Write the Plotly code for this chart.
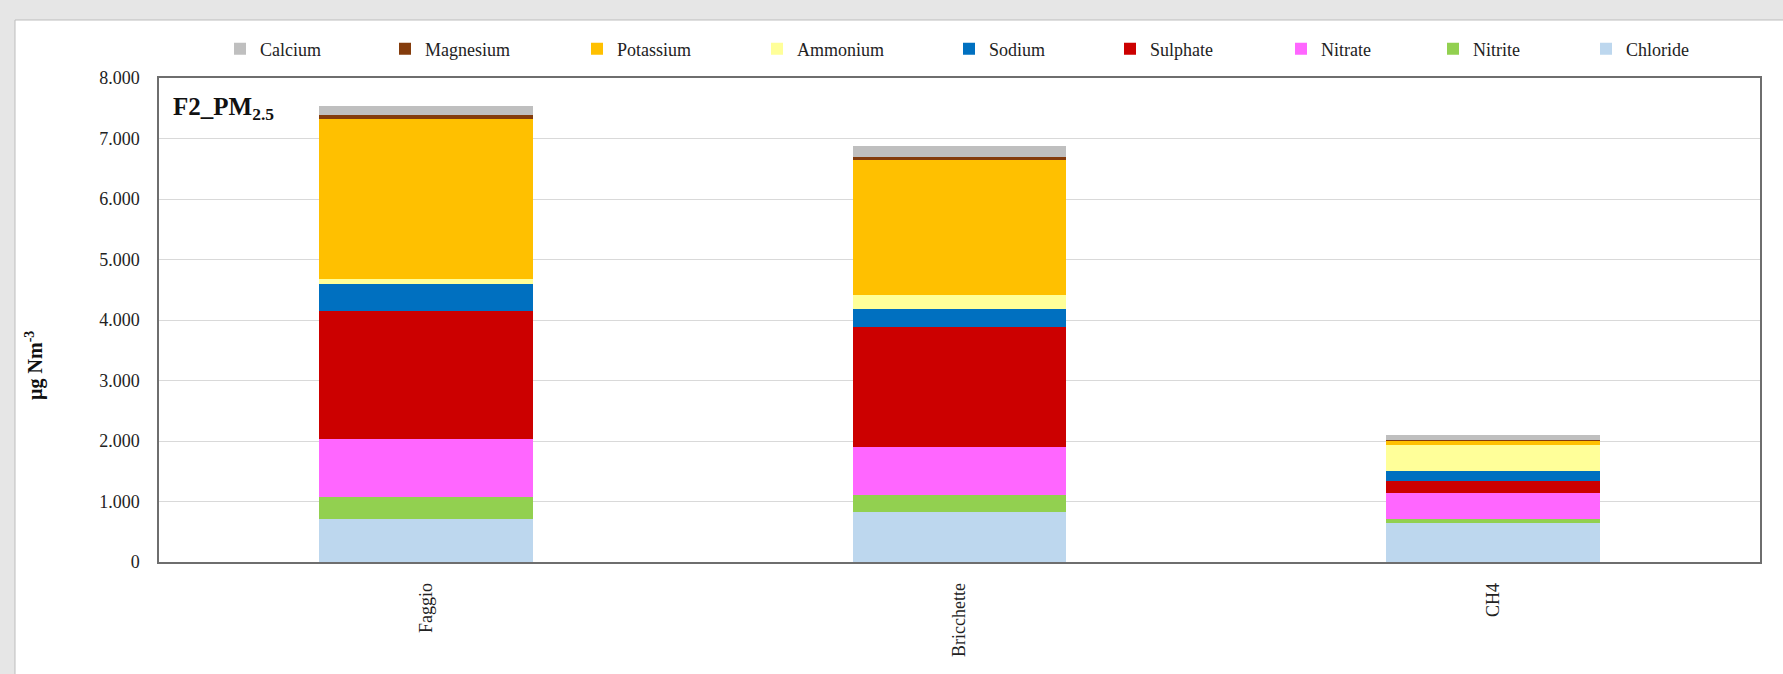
import plotly.graph_objects as go

categories = ["Faggio", "Bricchette", "CH4"]

# stacked from bottom to top
series_names = ["Chloride", "Nitrite", "Nitrate", "Sulphate", "Sodium",
                "Ammonium", "Potassium", "Magnesium", "Calcium"]
chloride = [0.706, 0.832, 0.650]
nitrite = [0.363, 0.270, 0.061]
nitrate = [0.959, 0.794, 0.424]
sulphate = [2.126, 1.994, 0.209]
sodium = [0.441, 0.287, 0.165]
ammonium = [0.078, 0.236, 0.425]
potassium = [2.644, 2.232, 0.073]
magnesium = [0.071, 0.044, 0.010]
calcium = [0.149, 0.192, 0.082]
series_values = [chloride, nitrite, nitrate, sulphate, sodium,
                 ammonium, potassium, magnesium, calcium]

colors = {
    "Calcium": "#BFBFBF", "Magnesium": "#843C0C", "Potassium": "#FFC000",
    "Ammonium": "#FFFF99", "Sodium": "#0070C0", "Sulphate": "#CC0000",
    "Nitrate": "#FF66FF", "Nitrite": "#92D050", "Chloride": "#BDD7EE",
}

y_tickvals = [0, 1, 2, 3, 4, 5, 6, 7, 8]
y_ticktext = ["0", "1.000", "2.000", "3.000", "4.000", "5.000", "6.000", "7.000", "8.000"]

W, H = 1783, 674
L, R, T, B = 159, 23, 78, 112
PW = W - L - R
PH = H - T - B

def px_x(p):
    return (p - L) / PW

def px_y(p):
    return (H - B - p) / PH

FONT = "Liberation Serif, Times New Roman, serif"
FS = 18

# legend marker centres (pixels) in display order
legend_order = ["Calcium", "Magnesium", "Potassium", "Ammonium", "Sodium",
                "Sulphate", "Nitrate", "Nitrite", "Chloride"]
legend_px = [247, 412, 604, 784, 976, 1137, 1308, 1460, 1613]

fig = go.Figure()
for name, vals in zip(series_names, series_values):
    idx = legend_order.index(name)
    lg = "legend" if idx == 0 else f"legend{idx + 1}"
    fig.add_trace(go.Bar(
        x=categories, y=vals, name=name, legend=lg,
        marker=dict(color=colors[name], line=dict(width=0)),
    ))

layout_legends = {}
for i, (name, p) in enumerate(zip(legend_order, legend_px)):
    key = "legend" if i == 0 else f"legend{i + 1}"
    layout_legends[key] = dict(
        x=px_x(p - 27), y=px_y(49), xanchor="left", yanchor="middle",
        orientation="h", bgcolor="rgba(0,0,0,0)",
        font=dict(family=FONT, size=FS, color="#222222"),
    )

fig.update_layout(
    width=W, height=H,
    margin=dict(l=L, r=R, t=T, b=B),
    barmode="stack", bargap=0.6,
    paper_bgcolor="#E6E6E6", plot_bgcolor="white",
    font=dict(family=FONT, size=FS, color="#222222"),
    showlegend=True,
    **layout_legends,
)

fig.update_yaxes(
    range=[0, 8], tickvals=y_tickvals, ticktext=y_ticktext,
    showgrid=True, gridcolor="#D9D9D9", gridwidth=1,
    showline=True, linecolor="#6E6E6E", linewidth=1.5, mirror=True,
    ticks="", ticklabelstandoff=14, zeroline=False,
    tickfont=dict(family=FONT, size=FS, color="#222222"),
)
fig.update_xaxes(
    tickangle=-90, showline=True, linecolor="#6E6E6E", linewidth=1.5, mirror=True,
    ticks="", ticklabelstandoff=12,
    tickfont=dict(family=FONT, size=FS, color="#222222"),
)

# white panel
fig.add_shape(type="rect", xref="paper", yref="paper",
              x0=px_x(15), x1=px_x(W + 5), y0=px_y(H + 5), y1=px_y(20),
              fillcolor="white", line=dict(color="#BDBDBD", width=1), layer="below")

# chart title inside plot area
fig.add_annotation(
    text="<b>F2_PM<sub>2.5</sub></b>", xref="paper", yref="paper",
    x=px_x(171), y=px_y(108), xanchor="left", yanchor="middle", showarrow=False,
    font=dict(family=FONT, size=25, color="#111111"),
)

# y axis title
fig.add_annotation(
    text="<b>µg Nm<sup>-3</sup></b>", xref="paper", yref="paper",
    x=px_x(34), y=px_y(366), xanchor="center", yanchor="middle", textangle=-90,
    showarrow=False, font=dict(family=FONT, size=20, color="#111111"),
)

fig.write_html("out.html", config={"displayModeBar": False},
               post_script="document.body.style.margin='0';")
